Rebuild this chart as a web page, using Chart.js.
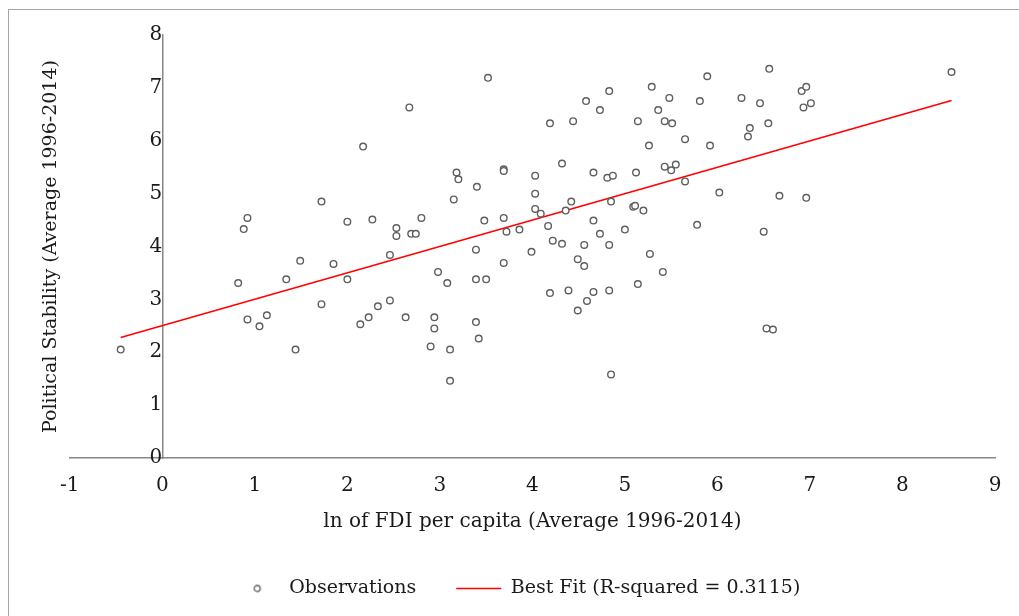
<!DOCTYPE html>
<html>
<head>
<meta charset="utf-8">
<script src="https://cdn.jsdelivr.net/npm/chart.js@4.4.1/dist/chart.umd.min.js"></script>
<style>
    body { margin: 0; background: #fff; }
    #marco { position: absolute; left: 8px; top: 9px; width: 1100px; height: 700px; border: 1px solid #a6a6a6; }
    #caja { position: absolute; left: 0; top: 0; width: 1019px; height: 616px; }
</style>
</head>
<body>
<div id="marco"></div>
<div id="caja"><canvas id="graficoDispersion"></canvas></div>
<script>
// ln of FDI per capita (x) y estabilidad política (y)
const fdiLog = [
    -0.45, 0.82, 0.88, 0.92, 0.92, 1.05, 1.13, 1.34, 1.44, 1.49,
    1.72, 1.72, 1.85, 2.00, 2.00, 2.14, 2.17, 2.23, 2.27, 2.33,
    2.46, 2.46, 2.53, 2.53, 2.63, 2.67, 2.69, 2.74, 2.80, 2.90,
    2.94, 2.94, 2.98, 3.08, 3.11, 3.11, 3.15, 3.18, 3.20, 3.40,
    3.39, 3.39, 3.39, 3.42, 3.48, 3.50, 3.52, 3.69, 3.69, 3.69,
    3.69, 3.72, 3.86, 3.99, 4.03, 4.03, 4.03, 4.09, 4.17, 4.19,
    4.19, 4.22, 4.32, 4.32, 4.36, 4.39, 4.42, 4.44, 4.49, 4.49,
    4.56, 4.56, 4.58, 4.59, 4.66, 4.66, 4.66, 4.73, 4.73, 4.81,
    4.83, 4.83, 4.83, 4.85, 4.87, 4.85, 5.00, 5.09, 5.11, 5.12,
    5.14, 5.14, 5.20, 5.26, 5.27, 5.29, 5.36, 5.41, 5.43, 5.43,
    5.48, 5.50, 5.51, 5.55, 5.65, 5.65, 5.78, 5.81, 5.89, 5.92,
    6.02, 6.26, 6.33, 6.35, 6.46, 6.50, 6.55, 6.56, 6.53, 6.60,
    6.67, 6.91, 6.96, 6.93, 7.01, 6.96, 8.53
];
const estabilidad = [
    2.05, 3.31, 4.33, 4.54, 2.62, 2.49, 2.70, 3.38, 2.05, 3.73,
    4.85, 2.91, 3.67, 4.47, 3.38, 2.53, 5.89, 2.66, 4.51, 2.87,
    3.84, 2.98, 4.35, 4.20, 2.66, 6.63, 4.24, 4.24, 4.54, 2.11,
    2.66, 2.45, 3.52, 3.31, 2.05, 1.46, 4.89, 5.40, 5.27, 5.13,
    3.94, 3.38, 2.57, 2.26, 4.49, 3.38, 7.19, 5.46, 5.43, 4.54,
    3.69, 4.28, 4.32, 3.90, 5.34, 5.00, 4.71, 4.62, 4.39, 6.33,
    3.12, 4.11, 5.57, 4.05, 4.68, 3.17, 4.85, 6.37, 3.76, 2.79,
    3.63, 4.03, 6.75, 2.97, 5.40, 4.49, 3.14, 6.58, 4.24, 5.30,
    6.94, 4.03, 3.17, 4.85, 5.34, 1.58, 4.32, 4.75, 4.77, 5.40,
    6.37, 3.29, 4.68, 5.91, 3.86, 7.02, 6.58, 3.52, 5.51, 6.37,
    6.81, 5.44, 6.33, 5.55, 6.03, 5.23, 4.41, 6.75, 7.22, 5.91,
    5.02, 6.81, 6.08, 6.24, 6.71, 4.28, 6.33, 7.36, 2.45, 2.43,
    4.96, 6.94, 7.02, 6.63, 6.71, 4.92, 7.30
];

// extremos de la recta de ajuste
const ajusteX = [-0.45, 8.53];
const ajusteY = [2.28, 6.76];

const ejeX = { min: -1, max: 9, paso: 1 };
const ejeY = { min: 0, max: 8, paso: 1 };

const fuente = 'DejaVu Serif';
const colorTexto = '#1a1a1a';
const colorEje = '#868686';
const colorPunto = '#5e5e5e';

let puntos = fdiLog.map((x, i) => ({ x: x, y: estabilidad[i] }));
let recta = ajusteX.map((x, i) => ({ x: x, y: ajusteY[i] }));

// circulito para la leyenda (si no, pointStyleWidth lo estira)
let circulo = document.createElement('canvas');
circulo.width = 10;
circulo.height = 10;
let cc = circulo.getContext('2d');
cc.beginPath();
cc.arc(5, 5, 3, 0, Math.PI * 2);
cc.fillStyle = '#ffffff';
cc.fill();
cc.lineWidth = 1.3;
cc.strokeStyle = colorPunto;
cc.stroke();

let datos = {
    datasets: [{
        label: 'Observations',
        data: puntos,
        pointStyle: 'circle',
        pointRadius: 3.3,
        pointHoverRadius: 3.3,
        borderWidth: 1.4,
        borderColor: colorPunto,
        backgroundColor: '#ffffff'
    }, {
        label: 'Best Fit (R-squared = 0.3115)',
        data: recta,
        showLine: true,
        pointRadius: 0,
        pointStyle: 'line',
        borderColor: '#ff0000',
        backgroundColor: '#ff0000',
        borderWidth: 1.6
    }]
};

let opciones = {
    responsive: false,
    animation: false,
    layout: { padding: { left: 40, right: 24, top: 35, bottom: 8 } },
    plugins: {
        tooltip: { enabled: false },
        legend: {
            position: 'bottom',
            labels: {
                usePointStyle: true,
                pointStyleWidth: 45,
                boxHeight: 5,
                padding: 40,
                color: colorTexto,
                font: { family: fuente, size: 19 },
                generateLabels: (chart) => {
                    let items = Chart.defaults.plugins.legend.labels.generateLabels(chart);
                    items[0].pointStyle = circulo;
                    return items;
                }
            }
        }
    },
    scales: {
        x: {
            type: 'linear',
            position: 'bottom',
            min: ejeX.min,
            max: ejeX.max,
            grid: { display: false, drawTicks: false },
            border: { display: true, color: colorEje, width: 1.5 },
            ticks: { stepSize: ejeX.paso, padding: 16, color: colorTexto, font: { family: fuente, size: 20 } },
            title: {
                display: true,
                text: 'ln of FDI per capita (Average 1996-2014)',
                color: colorTexto,
                font: { family: fuente, size: 20 },
                padding: { top: -4, bottom: 5 }
            }
        },
        y: {
            type: 'linear',
            position: { x: 0 },
            min: ejeY.min,
            max: ejeY.max,
            grid: { display: false, drawTicks: false },
            border: { display: true, color: colorEje, width: 1.5 },
            ticks: { stepSize: ejeY.paso, padding: 20, color: colorTexto, font: { family: fuente, size: 20 } }
        },
        tituloY: {
            type: 'linear',
            position: 'left',
            grid: { display: false, drawTicks: false },
            border: { display: false },
            ticks: { display: false },
            title: {
                display: true,
                text: 'Political Stability (Average 1996-2014)',
                color: colorTexto,
                font: { family: fuente, size: 19 },
                padding: { top: 0, bottom: 7 }
            }
        }
    }
};

let canvas = document.getElementById('graficoDispersion');
canvas.width = 1019;
canvas.height = 616;
let ctx = canvas.getContext('2d');

let miGrafico = new Chart(ctx, {
    type: 'scatter',
    data: datos,
    options: opciones
});
</script>
</body>
</html>
